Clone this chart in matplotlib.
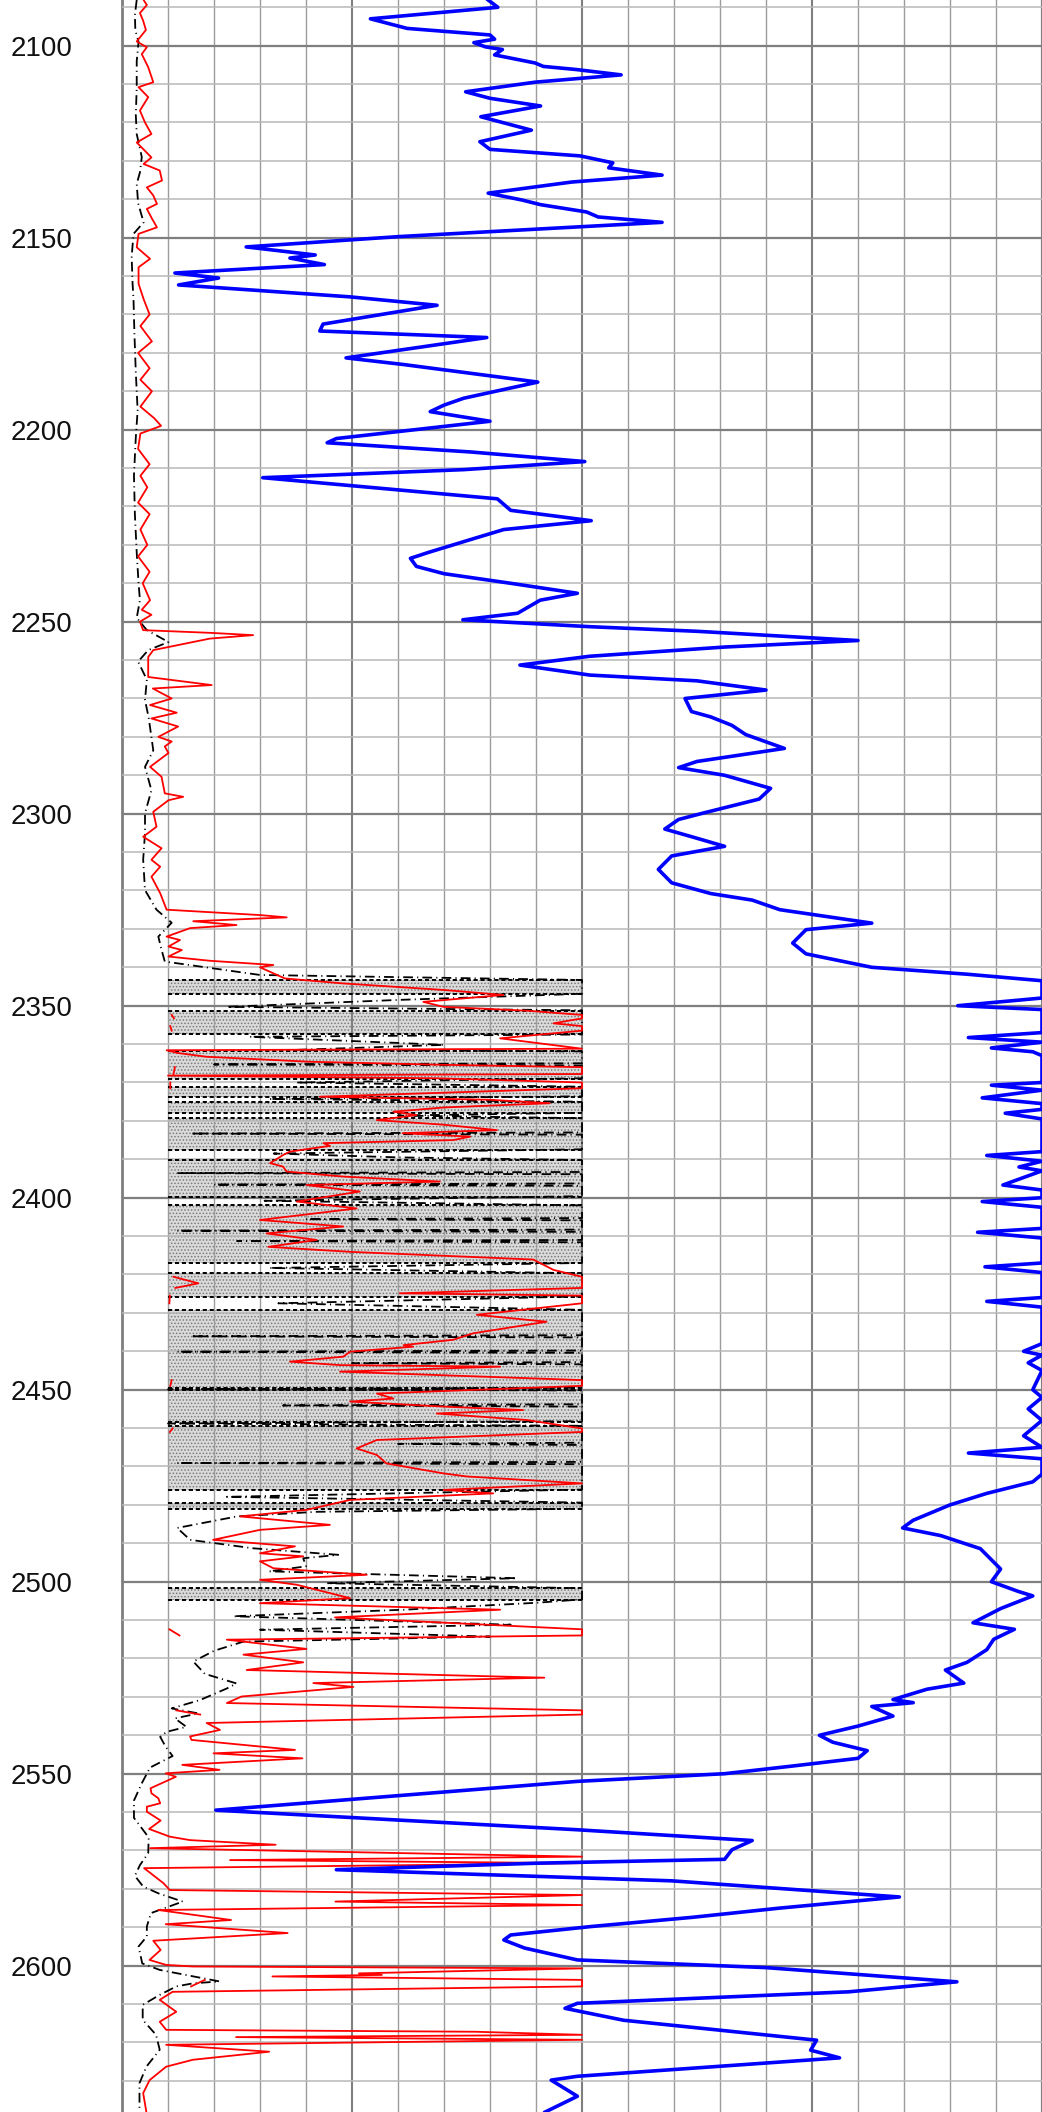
import numpy as np
import matplotlib.pyplot as plt

plt.rcParams['font.family'] = ['Liberation Sans', 'DejaVu Sans']
plt.rcParams['lines.scale_dashes'] = False
plt.rcParams['hatch.linewidth'] = 0.7

# depth window shown (m)
TOP, BASE = 2088.1, 2638.1

# blue curve, full width scale 0-200
blue_pts = [
    (2088.1, 79.6), (2090.0, 81.7), (2093.0, 54.0), (2095.5, 62.0), (2097.2, 80.0), (2098.3, 81.0),
    (2099.2, 76.5), (2100.3, 79.0), (2101.0, 82.7), (2102.4, 81.0), (2104.5, 89.8), (2105.4, 91.6),
    (2106.2, 98.7), (2107.6, 108.5), (2109.5, 89.8), (2112.0, 74.7), (2113.7, 80.0), (2115.7, 91.0),
    (2118.5, 78.0), (2122.0, 89.0), (2125.0, 77.8), (2127.0, 80.0), (2128.7, 99.6), (2130.5, 106.7),
    (2131.8, 105.8), (2133.7, 117.4), (2135.5, 97.8), (2138.4, 79.6), (2140.2, 87.0), (2141.4, 91.0),
    (2143.3, 101.0), (2144.6, 103.5), (2146.0, 117.4), (2149.7, 60.4), (2152.4, 27.0), (2154.5, 42.0),
    (2155.3, 36.5), (2157.0, 44.0), (2159.2, 11.5), (2160.5, 21.0), (2162.3, 12.3), (2165.4, 49.5),
    (2167.6, 68.5), (2172.5, 43.7), (2174.3, 43.0), (2176.0, 79.3), (2181.3, 48.7), (2183.0, 61.0),
    (2187.6, 90.4), (2191.8, 74.3), (2193.6, 70.0), (2195.3, 67.0), (2197.8, 80.0), (2202.3, 46.6),
    (2203.4, 44.6), (2205.8, 75.8), (2208.3, 100.6), (2210.4, 74.3), (2212.5, 30.6), (2218.0, 81.6),
    (2221.0, 84.5), (2223.7, 102.0), (2226.0, 83.0), (2228.6, 75.8), (2232.0, 66.5), (2233.5, 62.7),
    (2235.6, 64.0), (2237.5, 70.0), (2240.0, 84.5), (2242.6, 99.0), (2244.4, 90.9), (2247.8, 86.0),
    (2249.5, 74.1), (2251.3, 101.7), (2252.5, 125.0), (2254.9, 160.0), (2256.6, 131.0), (2259.0, 101.7),
    (2261.3, 86.5), (2263.9, 101.7), (2265.4, 125.0), (2267.8, 140.0), (2270.0, 122.4), (2273.4, 123.8),
    (2274.8, 128.0), (2277.0, 132.6), (2279.4, 135.6), (2283.0, 144.0), (2286.4, 125.0), (2288.0, 121.0),
    (2290.0, 131.0), (2293.4, 141.0), (2296.2, 138.5), (2299.7, 126.8), (2301.5, 121.0), (2304.0, 118.0),
    (2306.4, 125.0), (2308.5, 131.0), (2311.0, 119.5), (2314.5, 116.6), (2318.0, 119.5), (2320.8, 128.0),
    (2322.5, 137.0), (2325.0, 143.0), (2328.5, 163.0), (2330.2, 148.7), (2333.7, 145.8), (2336.5, 148.7),
    (2340.0, 163.0), (2341.8, 183.7), (2343.5, 200.0), (2345.0, 215.0), (2348.0, 205.0), (2350.0, 181.7),
    (2351.0, 200.0), (2352.0, 210.0), (2357.0, 205.0), (2358.3, 184.0), (2359.5, 200.0), (2361.0, 189.0),
    (2362.0, 198.0), (2363.0, 210.0), (2370.0, 205.0), (2370.7, 189.0), (2372.0, 200.0), (2374.0, 187.0),
    (2375.5, 205.0), (2377.0, 200.0), (2378.0, 192.0), (2379.5, 210.0), (2388.0, 205.0), (2389.0, 188.0),
    (2390.5, 200.0), (2392.0, 195.0), (2393.0, 200.0), (2396.7, 191.5), (2398.0, 205.0), (2400.0, 205.0),
    (2401.0, 187.0), (2402.5, 210.0), (2408.0, 205.0), (2409.0, 186.0), (2410.5, 210.0), (2417.0, 205.0),
    (2418.0, 187.6), (2419.5, 210.0), (2426.0, 205.0), (2427.0, 188.0), (2428.5, 210.0), (2438.0, 205.0),
    (2440.0, 196.0), (2441.0, 203.0), (2443.0, 197.0), (2445.0, 205.0), (2450.0, 198.0), (2452.0, 203.0),
    (2455.0, 197.0), (2458.0, 203.0), (2462.0, 196.0), (2465.0, 205.0), (2466.5, 184.0), (2468.0, 205.0),
    (2472.0, 205.0), (2474.0, 198.0), (2477.0, 188.0), (2480.0, 180.0), (2484.0, 172.0), (2486.0, 169.7),
    (2488.0, 178.0), (2491.4, 186.6), (2496.7, 191.0), (2500.0, 189.0), (2502.6, 195.0), (2503.7, 198.0),
    (2507.0, 191.0), (2510.7, 185.0), (2512.4, 194.0), (2515.0, 189.5), (2517.7, 188.0), (2521.0, 183.7),
    (2523.0, 179.0), (2526.4, 183.0), (2528.0, 175.0), (2530.7, 167.6), (2531.5, 172.0), (2532.5, 163.0),
    (2535.0, 167.6), (2537.6, 160.0), (2540.0, 151.6), (2541.8, 154.5), (2544.0, 162.0), (2546.0, 160.0),
    (2548.0, 145.8), (2550.0, 131.0), (2552.0, 99.0), (2559.5, 20.4), (2564.6, 99.0), (2567.4, 137.0),
    (2569.8, 132.6), (2572.3, 131.0), (2573.3, 90.4), (2575.0, 46.6), (2577.9, 119.5), (2582.1, 169.0),
    (2585.0, 143.0), (2587.4, 124.0), (2589.8, 102.0), (2592.0, 84.5), (2593.3, 83.0), (2595.4, 87.5),
    (2598.5, 99.0), (2600.5, 140.0), (2604.2, 181.5), (2606.8, 158.0), (2609.8, 99.0), (2611.1, 96.3),
    (2614.2, 109.0), (2619.4, 151.0), (2622.0, 149.7), (2624.0, 156.0), (2628.8, 99.0), (2629.8, 93.3),
    (2634.0, 99.0), (2638.1, 92.0),
]

# red curve, track 1 scale 0-100 (values above 100 wrap on a x10 backup scale)
red_pts = [
    (2088.1, 4.7), (2089.4, 5.4), (2091.5, 3.9), (2093.5, 4.6), (2095.9, 5.2), (2098.9, 3.2),
    (2100.4, 5.4), (2102.2, 4.3), (2105.6, 5.7), (2109.5, 6.8), (2110.8, 3.6), (2113.4, 5.7),
    (2116.9, 3.9), (2120.0, 5.0), (2123.0, 6.4), (2125.2, 3.2), (2129.1, 6.4), (2130.8, 4.7),
    (2132.5, 8.2), (2135.1, 8.7), (2136.9, 5.4), (2139.0, 6.8), (2141.2, 7.6), (2142.5, 5.4),
    (2145.0, 6.5), (2147.3, 7.6), (2149.0, 3.6), (2152.5, 3.2), (2155.5, 6.1), (2157.7, 3.6),
    (2162.0, 3.6), (2166.0, 4.7), (2170.0, 6.0), (2173.0, 4.0), (2177.0, 6.5), (2180.0, 3.5),
    (2184.0, 6.0), (2187.0, 4.0), (2190.0, 6.5), (2194.0, 4.0), (2197.0, 7.0), (2199.0, 8.5),
    (2201.0, 4.0), (2205.0, 3.5), (2209.0, 6.0), (2212.0, 4.0), (2215.0, 5.5), (2219.0, 3.5),
    (2222.0, 6.0), (2226.0, 4.0), (2230.0, 5.5), (2233.0, 3.5), (2237.0, 6.0), (2240.0, 4.5),
    (2244.4, 6.1), (2246.9, 4.3), (2248.2, 6.4), (2250.0, 3.9), (2252.2, 4.6), (2252.9, 19.1),
    (2253.5, 28.5), (2254.4, 19.1), (2257.4, 6.8), (2259.2, 5.7), (2264.4, 5.7), (2266.5, 19.5),
    (2267.4, 6.7), (2270.0, 10.8), (2271.7, 6.1), (2273.7, 11.9), (2275.2, 6.4), (2277.3, 12.2),
    (2280.0, 7.9), (2281.2, 10.8), (2282.5, 9.3), (2284.2, 10.1), (2287.8, 6.1), (2290.4, 8.6),
    (2294.7, 9.3), (2295.6, 13.3), (2296.5, 10.1), (2299.5, 6.8), (2303.4, 7.5), (2306.0, 4.6),
    (2309.0, 8.6), (2312.0, 6.4), (2313.8, 8.3), (2316.4, 6.4), (2320.7, 8.3), (2325.0, 9.7),
    (2326.4, 30.0), (2327.0, 35.8), (2328.0, 15.5), (2329.0, 24.9), (2329.8, 14.8), (2332.0, 9.7),
    (2332.9, 12.6), (2334.6, 10.1), (2335.5, 13.0), (2337.2, 10.1), (2338.3, 19.1), (2339.1, 29.3),
    (2339.4, 32.9), (2340.0, 30.0), (2342.9, 35.4), (2344.2, 48.1), (2345.9, 69.9), (2347.2, 82.9),
    (2349.0, 65.5), (2350.3, 69.9), (2351.3, 88.0), (2352.4, 108.0), (2353.3, 113.0), (2354.6, 93.8),
    (2355.3, 105.0), (2356.5, 108.0), (2358.5, 82.2), (2361.2, 110.0), (2361.6, 9.7), (2362.3, 12.0),
    (2363.3, 18.4), (2364.6, 40.9), (2365.4, 70.0), (2366.0, 115.0), (2367.8, 112.0), (2368.2, 10.0),
    (2368.9, 68.4), (2370.0, 105.0), (2371.5, 105.0), (2373.7, 43.0), (2374.5, 80.0), (2375.4, 93.0),
    (2376.5, 70.0), (2377.6, 59.0), (2378.5, 64.0), (2379.8, 55.4), (2381.0, 70.0), (2382.4, 81.5),
    (2383.2, 61.0), (2384.1, 75.7), (2385.0, 72.0), (2385.8, 43.8), (2386.5, 45.2), (2388.0, 36.5),
    (2388.9, 35.0), (2391.0, 32.2), (2391.9, 35.0), (2393.2, 35.8), (2394.5, 48.1), (2395.8, 69.1),
    (2396.7, 40.1), (2398.4, 51.7), (2401.0, 38.0), (2402.8, 51.0), (2405.8, 30.0), (2407.5, 48.1),
    (2409.3, 31.4), (2411.0, 42.3), (2412.8, 31.8), (2414.1, 49.6), (2416.1, 89.4), (2418.8, 93.8),
    (2420.6, 112.0), (2422.3, 166.0), (2423.5, 116.0), (2424.9, 60.4), (2425.5, 104.0), (2427.5, 103.0),
    (2430.5, 77.1), (2432.3, 92.3), (2435.3, 76.4), (2437.0, 72.0), (2438.4, 61.2), (2438.8, 63.3),
    (2440.1, 49.6), (2441.4, 48.1), (2442.7, 36.5), (2443.6, 47.4), (2444.0, 82.2), (2445.3, 47.4),
    (2447.5, 108.0), (2449.0, 105.0), (2451.0, 55.4), (2452.3, 59.0), (2453.1, 49.6), (2454.4, 69.9),
    (2455.3, 87.2), (2456.2, 68.4), (2457.9, 88.0), (2460.1, 110.0), (2461.0, 104.0), (2463.1, 55.4),
    (2465.3, 51.0), (2467.0, 55.4), (2469.2, 57.5), (2471.8, 69.9), (2472.6, 75.0), (2474.4, 106.0),
    (2476.1, 69.9), (2477.0, 80.7), (2478.7, 49.6), (2481.3, 40.1), (2483.0, 25.7), (2485.2, 45.2),
    (2486.5, 30.0), (2489.1, 19.8), (2490.8, 37.6), (2492.6, 30.0), (2493.4, 39.4), (2494.7, 30.0),
    (2496.5, 32.9), (2498.2, 53.2), (2499.5, 30.0), (2500.8, 38.0), (2504.3, 49.6), (2505.6, 30.0),
    (2507.3, 82.2), (2509.3, 46.3), (2512.4, 103.0), (2514.0, 125.0), (2515.1, 22.8), (2517.5, 40.1),
    (2519.0, 26.4), (2521.0, 39.4), (2523.0, 27.1), (2525.0, 91.8), (2526.4, 41.6), (2527.4, 50.3),
    (2529.9, 26.0), (2531.6, 22.8), (2533.5, 118.0), (2534.6, 170.0), (2536.8, 18.4), (2538.6, 21.3),
    (2540.3, 14.8), (2541.2, 15.1), (2543.8, 37.6), (2544.7, 19.9), (2546.0, 39.2), (2547.7, 13.1),
    (2549.0, 21.2), (2549.9, 9.5), (2550.8, 11.7), (2553.8, 6.2), (2555.1, 6.4), (2556.4, 7.9),
    (2557.7, 8.3), (2558.6, 5.4), (2559.9, 5.4), (2562.2, 8.4), (2564.4, 5.9), (2566.4, 10.4),
    (2567.3, 14.8), (2568.5, 33.4), (2569.4, 6.1), (2571.6, 120.0), (2572.5, 23.5), (2573.3, 112.0),
    (2574.6, 4.8), (2578.5, 9.0), (2580.3, 10.4), (2581.6, 135.0), (2583.3, 46.4), (2584.2, 114.0),
    (2585.5, 7.9), (2588.1, 23.7), (2589.2, 9.5), (2591.5, 36.0), (2593.5, 6.8), (2595.9, 8.4),
    (2598.5, 6.0), (2599.8, 9.6), (2600.2, 15.4), (2600.7, 210.0), (2602.0, 51.5), (2602.4, 56.5),
    (2602.8, 32.7), (2603.7, 180.0), (2605.4, 150.0), (2606.8, 11.0), (2608.9, 8.2), (2612.0, 11.8),
    (2614.6, 8.2), (2616.7, 9.6), (2617.2, 76.8), (2618.0, 240.0), (2618.6, 24.8), (2619.3, 130.0),
    (2620.6, 9.6), (2622.4, 32.0), (2624.5, 15.4), (2626.3, 9.6), (2629.8, 6.0), (2633.2, 4.6),
    (2638.1, 5.3),
]

# black dash-dot curve, track 1 scale 0-100
black_pts = [
    (2088.1, 3.2), (2092.0, 2.8), (2096.0, 2.9), (2099.0, 3.6), (2104.0, 3.2), (2111.0, 3.2),
    (2118.0, 3.0), (2123.0, 3.2), (2129.0, 4.3), (2133.0, 3.9), (2136.0, 3.2), (2141.0, 3.5),
    (2146.0, 4.7), (2149.0, 2.5), (2155.0, 2.1), (2162.0, 2.3), (2166.0, 2.5), (2175.0, 2.7),
    (2185.0, 3.0), (2195.0, 3.4), (2202.0, 3.0), (2212.0, 2.6), (2222.0, 2.8), (2232.0, 3.2),
    (2240.0, 3.6), (2244.4, 3.9), (2249.0, 3.2), (2252.2, 5.4), (2255.3, 10.1), (2257.4, 5.7),
    (2260.4, 3.5), (2265.1, 5.4), (2270.4, 5.0), (2275.0, 5.8), (2280.0, 6.4), (2283.5, 6.8),
    (2287.8, 5.0), (2293.9, 6.4), (2299.9, 5.0), (2305.1, 5.0), (2312.0, 4.6), (2319.9, 5.0),
    (2325.0, 7.5), (2328.4, 10.8), (2332.0, 7.9), (2335.0, 8.5), (2338.5, 9.3), (2342.0, 30.0),
    (2343.3, 130.0), (2346.9, 130.0), (2348.5, 60.0), (2350.3, 22.8), (2351.2, 130.0), (2357.5, 130.0),
    (2358.1, 27.8), (2360.2, 70.0), (2361.5, 38.0), (2361.9, 130.0), (2365.0, 130.0), (2365.3, 20.0),
    (2365.6, 130.0), (2368.9, 130.0), (2370.0, 38.0), (2371.1, 130.0), (2373.6, 130.0), (2374.3, 32.0),
    (2375.0, 130.0), (2377.9, 130.0), (2378.6, 60.0), (2379.3, 130.0), (2383.0, 130.0), (2383.3, 15.0),
    (2383.6, 130.0), (2387.4, 130.0), (2388.5, 33.0), (2389.5, 60.0), (2390.2, 130.0), (2393.3, 130.0),
    (2393.6, 12.0), (2393.9, 130.0), (2396.3, 130.0), (2396.6, 20.0), (2396.9, 130.0), (2399.6, 130.0),
    (2400.8, 31.0), (2402.0, 130.0), (2405.3, 130.0), (2405.6, 40.0), (2405.9, 130.0), (2408.3, 130.0),
    (2408.6, 12.0), (2408.9, 130.0), (2411.0, 130.0), (2411.3, 25.0), (2411.6, 130.0), (2417.0, 130.0),
    (2418.3, 32.0), (2419.7, 130.0), (2425.7, 130.0), (2427.5, 34.0), (2429.2, 130.0), (2435.8, 130.0),
    (2436.1, 15.0), (2436.4, 130.0), (2439.8, 130.0), (2440.1, 12.0), (2440.4, 130.0), (2442.8, 130.0),
    (2443.1, 50.0), (2443.4, 130.0), (2449.5, 130.0), (2449.9, 10.0), (2450.2, 130.0), (2453.8, 130.0),
    (2454.1, 35.0), (2454.4, 130.0), (2458.2, 130.0), (2458.8, 10.0), (2459.4, 130.0), (2463.8, 130.0),
    (2464.1, 60.0), (2464.4, 130.0), (2468.8, 130.0), (2469.1, 12.0), (2469.4, 130.0), (2476.0, 130.0),
    (2477.9, 22.8), (2479.4, 130.0), (2481.0, 130.0), (2481.8, 42.3), (2483.0, 25.0), (2486.0, 12.0),
    (2488.3, 14.1), (2489.1, 14.8), (2491.3, 28.5), (2493.0, 47.0), (2493.9, 39.4), (2496.0, 40.0),
    (2497.3, 32.0), (2499.1, 85.8), (2500.4, 44.5), (2501.7, 130.0), (2504.6, 130.0), (2505.5, 90.0),
    (2507.3, 61.2), (2509.0, 24.2), (2511.2, 84.5), (2512.5, 30.0), (2514.3, 80.0), (2515.6, 26.4),
    (2518.0, 20.0), (2520.8, 15.5), (2524.0, 18.0), (2526.5, 24.9), (2527.8, 22.8), (2530.8, 17.0),
    (2533.0, 10.8), (2534.3, 16.6), (2535.6, 11.5), (2537.8, 14.0), (2539.1, 9.7), (2540.4, 8.3),
    (2543.0, 9.5), (2545.4, 11.0), (2548.4, 6.1), (2552.5, 4.3), (2557.0, 2.6), (2561.5, 2.6),
    (2566.6, 5.8), (2570.7, 5.7), (2573.8, 3.9), (2576.6, 2.8), (2579.4, 4.6), (2581.2, 8.0),
    (2583.3, 13.2), (2586.3, 6.3), (2589.8, 5.4), (2592.4, 5.4), (2595.0, 3.6), (2599.4, 4.4),
    (2601.1, 8.2), (2604.1, 21.2), (2604.6, 15.4), (2605.4, 11.8), (2607.6, 8.2), (2610.2, 4.5),
    (2614.1, 4.5), (2618.0, 7.4), (2621.9, 8.2), (2626.3, 5.3), (2630.6, 3.8), (2638.1, 3.8),
]

# shaded (stippled) intervals, top and base depth
band_tops = [2343.3, 2351.3, 2361.8, 2371.1, 2375.0, 2379.3, 2390.2, 2402.0, 2419.7, 2429.2,
             2450.2, 2459.4, 2479.4, 2501.7]
band_bases = [2347.0, 2357.4, 2369.0, 2373.7, 2378.0, 2387.5, 2399.7, 2417.1, 2425.8, 2449.6,
              2458.3, 2476.1, 2481.0, 2504.7]

blue_d, blue_v = np.array(blue_pts).T
red_d, red_v = np.array(red_pts).T
blk_d, blk_v = np.array(black_pts).T

fig = plt.figure(figsize=(10.42, 21.12), dpi=100)
ax = fig.add_axes([122 / 1042, 0, 920 / 1042, 1])
ax.set_xlim(0, 200)
ax.set_ylim(BASE, TOP)

# grid
ax.set_xticks(np.arange(0, 201, 50))
ax.set_xticks(np.arange(0, 201, 10), minor=True)
ax.set_yticks(np.arange(2100, 2601, 50))
ax.set_yticks(np.arange(2090, 2640, 10), minor=True)
ax.xaxis.grid(True, which='major', color='#7f7f7f', lw=1.5)
ax.xaxis.grid(True, which='minor', color='#9c9c9c', lw=1.0)
ax.yaxis.grid(True, which='major', color='#7f7f7f', lw=1.6)
ax.yaxis.grid(True, which='minor', color='#b8b8b8', lw=1.1)
ax.set_axisbelow(False)
ax.tick_params(which='both', length=0, labelbottom=False)
ax.tick_params(axis='y', labelsize=20, pad=36, labelcolor='#111111')
for side in ['top', 'bottom']:
    ax.spines[side].set_visible(False)
ax.spines['left'].set_color('#7f7f7f')
ax.spines['left'].set_linewidth(2.0)
ax.spines['right'].set_color('#7f7f7f')
ax.spines['right'].set_linewidth(1.5)

# stippled intervals
for t, b in zip(band_tops, band_bases):
    ax.fill_betweenx([t, b], 10, 100, facecolor='#dadada', hatch='.....',
                     edgecolor='#7a7a7a', linewidth=0, zorder=1)
ax.hlines(band_tops + band_bases, 10, 100, colors='black', lw=1.4,
          linestyles=(0, (3, 2)), zorder=3)

# curves
ax.plot(np.minimum(blk_v, 100), blk_d, color='black', lw=1.3,
        linestyle=(0, (7, 3, 0.8, 3)), zorder=3.5)
ax.plot(np.minimum(red_v, 100), red_d, color='#ff0000', lw=1.3, zorder=4)
red_backup = np.where(red_v > 100, red_v / 10, np.nan)
ax.plot(red_backup, red_d, color='#ff0000', lw=1.3, zorder=4)
ax.plot(np.minimum(blue_v, 200), blue_d, color='#0000ff', lw=2.6, zorder=5)

fig.savefig('out.png', dpi=100)
